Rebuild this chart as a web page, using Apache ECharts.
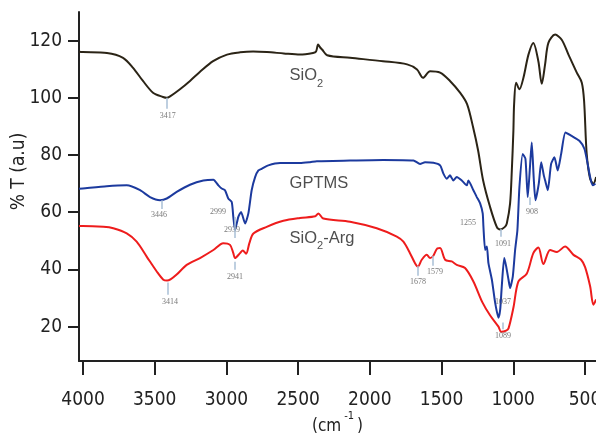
<!DOCTYPE html>
<html>
<head>
<meta charset="utf-8">
<script src="https://cdn.jsdelivr.net/npm/echarts@6/dist/echarts.min.js"></script>
<style>
  html, body { margin: 0; padding: 0; background: #fff; }
  #chart { width: 596px; height: 434px; }
</style>
</head>
<body>
<div id="chart"></div>
<script>
// wavenumber (cm-1), %T pairs
const sio2 = [
  [4028, 116.1], [4002, 116.0], [3833, 115.7], [3721, 114.0], [3651, 110.5], [3582, 105.9],
  [3512, 101.8], [3442, 100.3], [3417, 100.0], [3393, 100.5], [3324, 103.0], [3254, 105.9],
  [3184, 109.1], [3093, 112.8], [2996, 115.1], [2905, 115.9], [2814, 116.2], [2717, 116.0],
  [2600, 115.5], [2487, 115.1], [2396, 115.7], [2375, 116.2], [2361, 118.6], [2345, 117.5],
  [2333, 116.9], [2298, 114.9], [2138, 114.0], [1908, 112.8], [1740, 111.7], [1671, 109.9],
  [1629, 107.0], [1580, 109.3], [1510, 108.8], [1441, 105.9], [1371, 101.8], [1322, 97.8],
  [1280, 89.7], [1245, 81.6], [1210, 71.1], [1162, 61.9], [1115, 54.9], [1091, 54.0],
  [1060, 54.8], [1045, 56.1], [1022, 63.1], [1010, 74.6], [999, 88.5], [994, 97.8],
  [980, 105.3], [957, 103.0], [929, 107.0], [894, 115.1], [860, 119.2], [825, 112.8],
  [801, 104.9], [778, 111.7], [755, 119.2], [708, 122.1], [662, 120.3], [615, 115.1],
  [557, 108.8], [522, 105.3], [506, 98.9], [488, 80.5], [464, 71.7], [441, 70.0], [422, 72.3]
];
const gptms = [
  [4028, 68.2], [4002, 68.3], [3835, 69.1], [3695, 69.4], [3602, 67.7], [3533, 65.3],
  [3463, 64.2], [3416, 64.8], [3347, 67.1], [3254, 69.6], [3161, 71.1], [3091, 71.4],
  [3056, 69.4], [3033, 68.3], [3010, 67.7], [2987, 64.8], [2963, 63.6], [2952, 58.4],
  [2940, 53.8], [2917, 58.4], [2898, 60.1], [2870, 56.1], [2847, 59.6], [2824, 67.7],
  [2800, 72.3], [2777, 74.6], [2754, 75.2], [2708, 76.4], [2626, 77.2], [2487, 77.2],
  [2417, 77.5], [2370, 77.8], [2138, 78.1], [1906, 78.3], [1696, 78.1], [1650, 76.9],
  [1615, 77.5], [1557, 77.3], [1510, 76.4], [1487, 73.5], [1464, 71.7], [1441, 72.9],
  [1418, 71.1], [1394, 72.3], [1359, 71.1], [1324, 69.4], [1313, 71.1], [1278, 67.7],
  [1254, 65.3], [1231, 63.1], [1213, 59.6], [1208, 55.0], [1196, 46.8], [1184, 48.0],
  [1173, 42.2], [1149, 36.4], [1126, 28.3], [1103, 23.1], [1091, 26.0], [1080, 34.1],
  [1063, 44.0], [1049, 41.0], [1033, 36.4], [1022, 33.5], [1003, 37.6], [987, 46.8],
  [971, 53.8], [957, 68.8], [934, 80.4], [915, 78.7], [899, 65.3], [882, 76.9],
  [871, 84.4], [857, 71.7], [845, 64.2], [822, 70.0], [805, 77.5], [787, 72.9],
  [775, 70.6], [759, 67.7], [736, 76.9], [713, 79.2], [690, 74.6], [666, 80.4],
  [636, 87.9], [597, 86.8], [539, 85.0], [504, 82.2], [481, 76.9], [464, 72.3],
  [446, 69.4], [427, 70.0]
];
const sio2Arg = [
  [4028, 55.2], [4002, 55.2], [3858, 54.9], [3789, 54.4], [3695, 52.6], [3626, 49.7],
  [3556, 44.5], [3486, 39.3], [3440, 36.4], [3414, 36.1], [3390, 36.5], [3347, 38.2],
  [3277, 41.6], [3184, 44.0], [3091, 46.8], [3022, 49.2], [2975, 48.6], [2952, 45.7],
  [2940, 44.0], [2905, 45.7], [2886, 46.6], [2863, 45.5], [2840, 49.2], [2812, 52.6],
  [2719, 54.9], [2603, 57.0], [2487, 58.0], [2380, 58.6], [2359, 59.6], [2324, 57.8],
  [2138, 56.7], [1952, 54.4], [1812, 51.5], [1766, 49.7], [1720, 45.7], [1685, 42.2],
  [1665, 41.0], [1638, 43.4], [1603, 45.1], [1580, 44.0], [1557, 44.8], [1529, 47.4],
  [1510, 47.5], [1475, 43.4], [1429, 42.8], [1394, 41.6], [1336, 40.5], [1278, 35.8],
  [1215, 28.5], [1162, 24.0], [1103, 20.0], [1085, 18.2], [1050, 18.6], [1033, 19.4],
  [999, 26.6], [964, 35.8], [906, 38.5], [860, 45.7], [825, 47.7], [790, 41.9],
  [743, 46.8], [696, 46.1], [639, 48.0], [580, 45.1], [527, 43.4], [499, 40.8],
  [464, 34.1], [441, 27.7], [422, 29.5]
];

const xTicks = [4000, 3500, 3000, 2500, 2000, 1500, 1000, 500];
const yTicks = [20, 40, 60, 80, 100, 120];

// peak marker lines: [wavenumber, from %T, to %T]
const peakLines = [
  [3417, 100, 96.2], [3451, 64.2, 61.1], [2940, 58.3, 51.0], [2940, 42.7, 39.9],
  [3407, 35.4, 31.2], [1664, 41.3, 37.8], [1559, 44.8, 41.3], [1085, 54.1, 51.4],
  [883, 65.2, 62.5], [1075, 21.5, 19.1]
];
// peak labels: [text, wavenumber, %T]
const peakLabels = [
  ['3417', 3410, 93.7], ['3446', 3470, 59.0], ['2999', 3059, 60.1], ['2939', 2961, 53.8],
  ['2941', 2940, 37.5], ['3414', 3393, 28.8], ['1678', 1664, 35.6], ['1579', 1545, 39.2],
  ['1255', 1315, 56.2], ['1091', 1071, 48.9], ['908', 869, 60.1], ['1037', 1071, 28.5],
  ['1089', 1071, 16.6]
];
// curve names: [rich text, wavenumber, %T]
const curveNames = [
  ['{m|SiO}{s|2}', 2563, 106.9],
  ['{m|GPTMS}', 2563, 69.1],
  ['{m|SiO}{s|2}{m|-Arg}', 2563, 50.0]
];

const tickFont = '"Liberation Sans Narrow", "Arial Narrow", "DejaVu Sans Condensed", sans-serif';

const chart = echarts.init(document.getElementById('chart'));

const lineStyle = color => ({ color, width: 2 });

chart.setOption({
  animation: false,
  backgroundColor: '#fff',
  grid: { left: 79, right: 0, top: 12, bottom: 73, containLabel: false, outerBoundsMode: 'none' },
  xAxis: {
    type: 'value',
    inverse: true,
    min: 423,
    max: 4028,
    name: '{p|(cm}{sup|-1}{p|)}',
    nameLocation: 'middle',
    nameMoveOverlap: false,
    nameGap: 50,
    nameTextStyle: {
      rich: {
        p: { fontSize: 17, fontFamily: tickFont, color: '#222', verticalAlign: 'bottom', lineHeight: 24 },
        sup: { fontSize: 11, fontFamily: tickFont, color: '#222', verticalAlign: 'top', lineHeight: 12, padding: [0, 3, 0, 3] }
      }
    },
    splitLine: { show: false },
    axisLine: { lineStyle: { color: '#222', width: 2 } },
    axisTick: { customValues: xTicks, length: 14, lineStyle: { color: '#222', width: 2 } },
    axisLabel: {
      customValues: xTicks, margin: 30, fontSize: 19, fontFamily: tickFont, color: '#222',
      formatter: v => String(v)
    }
  },
  yAxis: {
    type: 'value',
    min: 8,
    max: 130,
    name: '% T (a.u)',
    nameLocation: 'middle',
    nameMoveOverlap: false,
    nameRotate: 90,
    nameGap: 50,
    nameTextStyle: { fontSize: 19, fontFamily: tickFont, color: '#222', padding: [0, 0, 0, 30] },
    splitLine: { show: false },
    axisLine: { show: true, lineStyle: { color: '#222', width: 2 } },
    axisTick: { show: true, customValues: yTicks, length: 11, lineStyle: { color: '#222', width: 2 } },
    axisLabel: {
      customValues: yTicks, margin: 17, fontSize: 19, fontFamily: tickFont, color: '#222',
      formatter: v => String(v)
    }
  },
  series: [
    {
      name: 'SiO2', type: 'line', data: sio2, showSymbol: false, smooth: 0.3,
      lineStyle: lineStyle('#2b2416'), z: 3
    },
    {
      name: 'GPTMS', type: 'line', data: gptms, showSymbol: false, smooth: 0.2,
      lineStyle: lineStyle('#1c3a9e'), z: 3
    },
    {
      name: 'SiO2-Arg', type: 'line', data: sio2Arg, showSymbol: false, smooth: 0.3,
      lineStyle: lineStyle('#ee1c1c'), z: 3,
      markLine: {
        silent: true,
        symbol: 'none',
        label: { show: false },
        lineStyle: { color: '#a9bfd6', width: 1.5, type: 'solid' },
        data: peakLines.map(p => [{ coord: [p[0], p[1]] }, { coord: [p[0], p[2]] }])
      }
    },
    {
      name: 'peaks', type: 'scatter', symbolSize: 1, z: 4,
      itemStyle: { color: 'rgba(0,0,0,0)' },
      data: peakLabels.map(p => ({ name: p[0], value: [p[1], p[2]] })),
      label: {
        show: true, position: 'inside', formatter: '{b}',
        fontSize: 8, fontFamily: '"Liberation Serif", serif', color: '#555'
      }
    },
    {
      name: 'names', type: 'scatter', symbolSize: 1, z: 4,
      itemStyle: { color: 'rgba(0,0,0,0)' },
      data: curveNames.map(p => ({ name: p[0], value: [p[1], p[2]] })),
      label: {
        show: true, position: 'right', distance: 0, formatter: '{b}',
        rich: {
          m: { fontSize: 16.5, fontFamily: 'Liberation Sans, Arial, sans-serif', color: '#222', verticalAlign: 'top', lineHeight: 22 },
          s: { fontSize: 11, fontFamily: 'Liberation Sans, Arial, sans-serif', color: '#222', verticalAlign: 'bottom', lineHeight: 13 }
        }
      }
    }
  ]
});
</script>
</body>
</html>
